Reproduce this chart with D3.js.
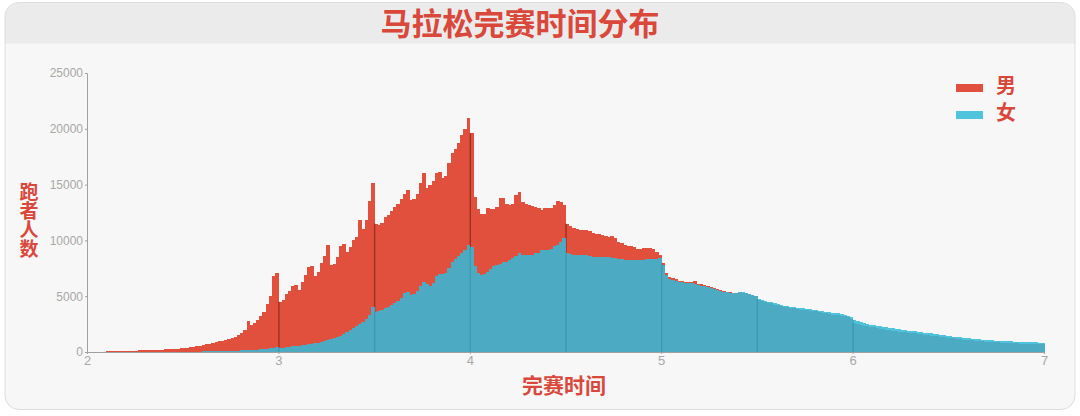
<!DOCTYPE html>
<html>
<head>
<meta charset="utf-8">
<script src="https://cdn.jsdelivr.net/npm/d3@7"></script>
<style>
  html, body { margin: 0; padding: 0; background: #ffffff; }
  .chart-svg { font-family: Roboto, "Noto Sans CJK SC", sans-serif; display: block; }
  .tick text { fill: #a8a8a8; font-size: 12px; }
  .tick line, .domain { stroke: #a0a0a0; }
  .cn { font-family: "Noto Sans CJK SC", sans-serif; font-weight: 700; fill: #d9483b; }
  .bars rect { shape-rendering: crispEdges; }
</style>
</head>
<body>
<svg id="chart"></svg>
<script>
// Finish time bins: one per minute, starting at 2:00
const startHour = 2;
const binMinutes = 1;

// Runners per minute, men (rows of 10 minutes, 2:00 ... 6:59)
const maleCounts = [
  0, 0, 0, 0, 0, 30, 50, 60, 70, 70,
  90, 100, 110, 110, 120, 130, 140, 140, 160, 170,
  180, 190, 200, 210, 230, 250, 260, 290, 300, 330,
  360, 390, 420, 460, 520, 560, 610, 680, 740, 820,
  900, 950, 1020, 1090, 1160, 1260, 1380, 1520, 1700, 2000,
  2750, 2400, 2600, 2900, 3250, 3550, 4300, 5000, 6800, 7100,
  4500, 4700, 5200, 5500, 5900, 6000, 5600, 6300, 6900, 7600,
  7700, 6800, 7200, 8000, 8600, 9600, 7800, 7900, 8500, 9500,
  9700, 9000, 9400, 10000, 10300, 11800, 11000, 11800, 13500, 15100,
  11500, 11400, 11600, 12100, 12300, 12600, 13000, 13300, 13700, 14200,
  14500, 13600, 13700, 14200, 15100, 16000, 14700, 15000, 15300, 16000,
  16100, 15600, 15800, 16900, 17800, 18200, 18700, 19400, 20000, 21000,
  19600, 13900, 12800, 12400, 12400, 12900, 12800, 12800, 13000, 13800,
  13800, 13300, 13200, 13300, 14100, 14300, 13400, 13300, 13200, 13100,
  13000, 12900, 12700, 12900, 12900, 12900, 13200, 13500, 13400, 13200,
  11500, 11300, 11100, 11000, 10900, 10950, 10900, 10800, 10700, 10600,
  10600, 10500, 10400, 10300, 10400, 10200, 9900, 9800, 9600, 9500,
  9500, 9400, 9200, 9250, 9300, 9300, 9350, 9200, 9000, 8700,
  8000, 7050, 6750, 6600, 6500, 6400, 6350, 6300, 6250, 6300,
  6350, 6100, 6050, 6000, 5950, 5850, 5750, 5650, 5550, 5450,
  5400, 5350, 5300, 5300, 5350, 5300, 5250, 5200, 5150, 5050,
  4650, 4600, 4500, 4400, 4350, 4250, 4200, 4100, 4050, 4000,
  3950, 3900, 3850, 3800, 3800, 3750, 3700, 3700, 3650, 3600,
  3500, 3450, 3400, 3350, 3350, 3300, 3250, 3200, 3100, 3000,
  2600, 2550, 2450, 2350, 2300, 2250, 2200, 2150, 2100, 2050,
  2000, 1950, 1900, 1850, 1800, 1780, 1750, 1720, 1690, 1660,
  1620, 1580, 1540, 1500, 1470, 1430, 1400, 1360, 1330, 1290,
  1260, 1220, 1190, 1150, 1120, 1090, 1060, 1040, 1010, 990,
  960, 940, 920, 900, 880, 860, 840, 830, 810, 800,
  780, 770, 760, 750, 740, 730, 720, 710, 700, 690
];

// Runners per minute, women
const femaleCounts = [
  0, 0, 0, 0, 0, 0, 0, 0, 0, 0,
  0, 0, 0, 0, 0, 0, 0, 0, 10, 10,
  10, 10, 10, 10, 20, 20, 20, 20, 20, 30,
  30, 30, 30, 40, 40, 40, 50, 50, 60, 60,
  70, 70, 80, 90, 100, 110, 120, 130, 150, 160,
  180, 180, 200, 220, 240, 260, 290, 320, 370, 420,
  350, 380, 420, 460, 500, 540, 580, 630, 670, 720,
  760, 800, 850, 920, 1000, 1080, 1150, 1230, 1330, 1450,
  1650, 1820, 1950, 2150, 2350, 2550, 2700, 2950, 3350, 4050,
  3600, 3650, 3800, 3950, 4050, 4200, 4350, 4600, 4800, 5300,
  5400, 5100, 5200, 5500, 5900, 6300, 6100, 5900, 6200, 6800,
  7000, 7000, 7100, 7500, 8100, 8300, 8600, 8900, 9100, 9600,
  9400, 7700, 7100, 6900, 7000, 7200, 7400, 7700, 7800, 7900,
  8100, 8100, 8200, 8400, 8600, 8850, 8700, 8700, 8650, 8700,
  8850, 8900, 9150, 9100, 9150, 9200, 9500, 9600, 9850, 10200,
  8850, 8750, 8700, 8700, 8700, 8650, 8650, 8600, 8550, 8550,
  8550, 8550, 8500, 8500, 8450, 8400, 8350, 8300, 8250, 8250,
  8250, 8250, 8250, 8250, 8250, 8300, 8300, 8300, 8350, 8400,
  7800, 6900, 6550, 6450, 6400, 6300, 6250, 6200, 6150, 6150,
  6100, 6000, 5950, 5900, 5850, 5750, 5650, 5600, 5450, 5400,
  5350, 5300, 5300, 5320, 5350, 5380, 5300, 5200, 5150, 5000,
  4750, 4700, 4600, 4500, 4450, 4350, 4300, 4200, 4150, 4100,
  4050, 4000, 3950, 3900, 3900, 3850, 3820, 3800, 3750, 3700,
  3650, 3600, 3550, 3500, 3480, 3450, 3400, 3350, 3250, 3150,
  2900, 2800, 2700, 2600, 2520, 2460, 2400, 2350, 2300, 2250,
  2200, 2160, 2110, 2060, 2020, 1980, 1950, 1920, 1890, 1860,
  1820, 1780, 1740, 1700, 1670, 1630, 1590, 1550, 1500, 1460,
  1420, 1380, 1340, 1300, 1270, 1240, 1210, 1180, 1160, 1140,
  1110, 1090, 1070, 1050, 1030, 1010, 990, 970, 960, 950,
  930, 920, 910, 900, 890, 880, 870, 860, 850, 840
];

const xTicks = [2, 3, 4, 5, 6, 7];
const yTicks = [0, 5000, 10000, 15000, 20000, 25000];
const markerHours = [3, 3.5, 4, 4.5, 5, 5.5, 6];
const seriesNames = ['男', '女'];

const width = 1080;
const height = 416;
const maleColor = '#e1503d';
const femaleColor = '#34bad8';
const femaleOpacity = 0.86;

const svg = d3.select('#chart')
  .attr('width', width)
  .attr('height', height)
  .attr('class', 'chart-svg');

// Card background with header band
const card = { x: 5, y: 2.5, w: 1070, h: 407, r: 14 };
svg.append('clipPath').attr('id', 'card-clip')
  .append('rect')
  .attr('x', card.x).attr('y', card.y)
  .attr('width', card.w).attr('height', card.h)
  .attr('rx', card.r);

svg.append('rect')
  .attr('x', card.x).attr('y', card.y)
  .attr('width', card.w).attr('height', card.h)
  .attr('rx', card.r)
  .attr('fill', '#f7f7f7');

svg.append('rect')
  .attr('clip-path', 'url(#card-clip)')
  .attr('x', card.x).attr('y', card.y)
  .attr('width', card.w).attr('height', 41)
  .attr('fill', '#ebebeb');

svg.append('rect')
  .attr('x', card.x).attr('y', card.y)
  .attr('width', card.w).attr('height', card.h)
  .attr('rx', card.r)
  .attr('fill', 'none')
  .attr('stroke', '#dedede')
  .attr('stroke-width', 1);

// Title
svg.append('text')
  .attr('class', 'cn')
  .attr('x', 520)
  .attr('y', 35)
  .attr('text-anchor', 'middle')
  .style('font-size', '31px')
  .text('马拉松完赛时间分布');

// Scales
const x = d3.scaleLinear().domain([2, 7]).range([87, 1044]);
const y = d3.scaleLinear().domain([0, 25000]).range([352, 73]);

const binHour = binMinutes / 60;
const bins = maleCounts.map((m, i) => ({
  t: startHour + i * binHour,
  male: m,
  female: femaleCounts[i]
}));
const barW = x(startHour + binHour) - x(startHour);

const plot = svg.append('g');

// Men's bars
plot.append('g').attr('class', 'bars').selectAll('rect')
  .data(bins)
  .enter()
  .append('rect')
  .attr('x', d => x(d.t))
  .attr('y', d => y(d.male))
  .attr('width', barW + 0.6)
  .attr('height', d => y(0) - y(d.male))
  .attr('fill', maleColor);

// Dark marks at the half hours (men)
const markerBins = markerHours.map(h => bins[Math.round((h - startHour) / binHour)]);
plot.append('g').selectAll('line')
  .data(markerBins)
  .enter()
  .append('line')
  .attr('x1', d => x(d.t) + 0.5).attr('x2', d => x(d.t) + 0.5)
  .attr('y1', d => y(d.male)).attr('y2', y(0))
  .attr('stroke', '#9e2f22')
  .attr('stroke-width', 1.4);

// Women's bars, drawn over the men's; opacity on the group so bars don't double up
plot.append('g')
  .attr('class', 'bars')
  .attr('opacity', femaleOpacity)
  .selectAll('rect')
  .data(bins)
  .enter()
  .append('rect')
  .attr('x', d => x(d.t))
  .attr('y', d => y(d.female))
  .attr('width', barW + 0.6)
  .attr('height', d => y(0) - y(d.female))
  .attr('fill', femaleColor);

plot.append('g').selectAll('line')
  .data(markerBins)
  .enter()
  .append('line')
  .attr('x1', d => x(d.t) + 0.5).attr('x2', d => x(d.t) + 0.5)
  .attr('y1', d => y(d.female)).attr('y2', y(0))
  .attr('stroke', '#2f8ea6')
  .attr('stroke-opacity', 0.5)
  .attr('stroke-width', 1.2);

// Axes
svg.append('g')
  .attr('transform', `translate(0, ${y(0)})`)
  .call(d3.axisBottom(x).tickValues(xTicks).tickSize(2).tickFormat(d3.format('d')))
  .call(g => g.selectAll('.tick text').style('font-size', '13px').attr('dy', '0.6em'));

svg.append('g')
  .attr('transform', `translate(${x(2)}, 0)`)
  .call(d3.axisLeft(y).tickValues(yTicks).tickSize(2).tickFormat(d3.format('d')))
  .call(g => g.selectAll('.tick text').attr('x', -4));

// Axis titles (vertical text on the left)
svg.append('text')
  .attr('class', 'cn')
  .attr('x', 29)
  .attr('y', 220)
  .attr('text-anchor', 'middle')
  .style('writing-mode', 'vertical-rl')
  .style('font-size', '19px')
  .text('跑者人数');

svg.append('text')
  .attr('class', 'cn')
  .attr('x', 564)
  .attr('y', 393)
  .attr('text-anchor', 'middle')
  .style('font-size', '21px')
  .text('完赛时间');

// Legend
const legend = svg.append('g').attr('transform', 'translate(956, 84)');
[[maleColor, 1], [femaleColor, femaleOpacity]].forEach(([c, o], i) => {
  const row = legend.append('g').attr('transform', `translate(0, ${i * 27})`);
  row.append('rect')
    .attr('width', 27).attr('height', 8)
    .attr('y', 0)
    .attr('fill', c)
    .attr('fill-opacity', o);
  row.append('text')
    .attr('class', 'cn')
    .attr('x', 40)
    .attr('y', 9)
    .style('font-size', '20px')
    .text(seriesNames[i]);
});
</script>
</body>
</html>
